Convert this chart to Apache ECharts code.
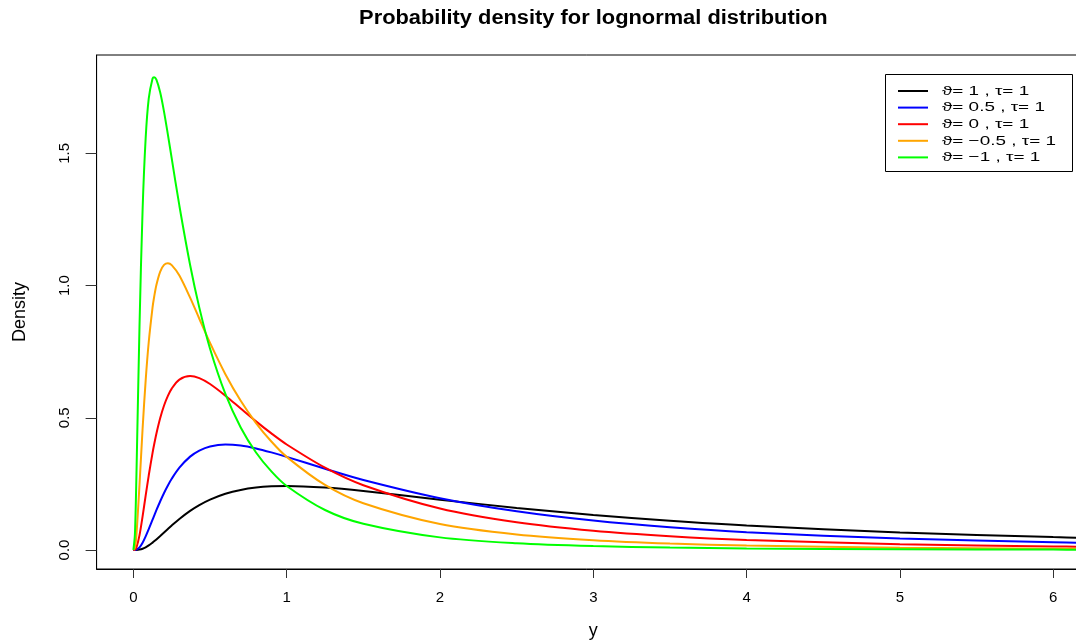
<!DOCTYPE html>
<html>
<head>
<meta charset="utf-8">
<script src="https://cdn.jsdelivr.net/npm/echarts@6/dist/echarts.min.js"></script>
<style>
html,body{margin:0;padding:0;background:#fff;}
#c{width:1076px;height:640px;}
</style>
</head>
<body>
<div id="c"></div>
<script>
// x positions (y variable) at which densities were read
const xs = [0, 0.01, 0.02, 0.04, 0.06, 0.08, 0.1, 0.125, 0.135, 0.15, 0.175, 0.2, 0.225, 0.25, 0.3, 0.37, 0.43, 0.5, 0.6, 0.7, 0.8, 0.9, 1.0, 1.25, 1.5, 2, 2.5, 3, 3.5, 4, 5, 6, 6.2];

const densTheta1 = [0, 0, 0.0001, 0.0014, 0.0046, 0.0100, 0.0171, 0.0279, 0.0326, 0.0400, 0.0530, 0.0663, 0.0795, 0.0926, 0.1172, 0.1476, 0.1695, 0.1904, 0.2124, 0.2271, 0.2361, 0.2406, 0.2420, 0.2360, 0.2229, 0.1903, 0.1590, 0.1323, 0.1104, 0.0926, 0.0663, 0.0486, 0.0458];
const densTheta05 = [0, 0.0001, 0.0012, 0.0099, 0.0275, 0.0513, 0.0786, 0.1146, 0.1290, 0.1504, 0.1843, 0.2156, 0.2440, 0.2694, 0.3114, 0.3530, 0.3760, 0.3916, 0.3989, 0.3949, 0.3840, 0.3690, 0.3521, 0.3072, 0.2648, 0.1958, 0.1463, 0.1112, 0.0859, 0.0673, 0.0431, 0.0289, 0.0268];
const densTheta0 = [0, 0.0010, 0.0095, 0.0562, 0.1271, 0.2054, 0.2815, 0.3674, 0.3981, 0.4399, 0.4990, 0.5464, 0.5828, 0.6104, 0.6441, 0.6577, 0.6497, 0.6276, 0.5836, 0.5348, 0.4864, 0.4408, 0.3989, 0.3113, 0.2450, 0.1569, 0.1049, 0.0727, 0.0520, 0.0381, 0.0219, 0.0134, 0.0122];
const densThetaM05 = [0, 0.0087, 0.0592, 0.2476, 0.4583, 0.6407, 0.7855, 0.9173, 0.9557, 1.0020, 1.0530, 1.0780, 1.0844, 1.0775, 1.0380, 0.9542, 0.8745, 0.7831, 0.6649, 0.5641, 0.4799, 0.4101, 0.3521, 0.2458, 0.1765, 0.0979, 0.0585, 0.0371, 0.0245, 0.0168, 0.0086, 0.0048, 0.0043];
const densThetaM1 = [0, 0.0601, 0.2875, 0.8508, 1.2860, 1.5570, 1.7070, 1.7830, 1.7880, 1.7790, 1.7300, 1.6570, 1.5710, 1.4810, 1.3020, 1.0780, 0.9166, 0.7612, 0.5900, 0.4635, 0.3687, 0.2971, 0.2420, 0.1511, 0.0991, 0.0476, 0.0255, 0.0147, 0.0090, 0.0058, 0.0027, 0.0013, 0.0012];

const seriesNames = ['ϑ= 1 , τ= 1', 'ϑ= 0.5 , τ= 1', 'ϑ= 0 , τ= 1', 'ϑ= −0.5 , τ= 1', 'ϑ= −1 , τ= 1'];
const seriesColors = ['#000000', '#0000ff', '#ff0000', '#ffa500', '#00ff00'];
const seriesValues = [densTheta1, densTheta05, densTheta0, densThetaM05, densThetaM1];

const xTicks = [0, 1, 2, 3, 4, 5, 6];
const yTicks = [0, 0.5, 1, 1.5];
const yTickLabels = ['0.0', '0.5', '1.0', '1.5'];

const titleText = 'Probability density for lognormal distribution';
const xName = 'y';
const yName = 'Density';

const FONT = '"Liberation Sans", Arial, Helvetica, sans-serif';

const chart = echarts.init(document.getElementById('c'), null, {renderer: 'canvas'});

const series = seriesValues.map((vals, k) => ({
  name: seriesNames[k],
  type: 'line',
  data: xs.map((x, i) => [x, vals[i]]),
  showSymbol: false,
  symbol: 'none',
  smooth: 0.3,
  clip: true,
  color: seriesColors[k],
  lineStyle: {color: seriesColors[k], width: 2},
  emphasis: {disabled: true}
}));

// legend drawn as a boxed key (R style)
const legendBox = {x: 885, y: 74, w: 187, h: 97, row0: 91, rowStep: 16.6};
const legendGraphics = [{
  type: 'rect', z: 100,
  shape: {x: legendBox.x + 0.5, y: legendBox.y + 0.5, width: legendBox.w, height: legendBox.h},
  style: {fill: '#fff', stroke: '#000', lineWidth: 1}
}];
seriesNames.forEach((nm, i) => {
  const yy = legendBox.row0 + i * legendBox.rowStep;
  legendGraphics.push({
    type: 'line', z: 101,
    shape: {x1: 898, y1: yy, x2: 928, y2: yy},
    style: {stroke: seriesColors[i], lineWidth: 2}
  });
  legendGraphics.push({
    type: 'text', z: 101, x: 942, y: yy, scaleX: 1.4,
    style: {text: nm, fontFamily: FONT, fontSize: 13.5, fill: '#000', align: 'left', verticalAlign: 'middle'}
  });
});

chart.setOption({
  animation: false,
  backgroundColor: '#ffffff',
  textStyle: {fontFamily: FONT},
  grid: {
    left: 96.6, top: 55, width: 993.4, height: 514,
    outerBoundsMode: 'none',
    show: true, borderColor: '#000', borderWidth: 1, backgroundColor: 'transparent',
    containLabel: false
  },
  graphic: [{
    type: 'text', z: 100,
    x: 593.3, y: 19, scaleX: 1.12,
    style: {
      text: titleText,
      fontFamily: FONT, fontSize: 19.5, fontWeight: 'bold',
      fill: '#000',
      align: 'center', verticalAlign: 'middle'
    }
  }].concat(legendGraphics),
  xAxis: {
    type: 'value',
    min: -0.24, max: 6.24,
    splitLine: {show: false},
    axisLine: {show: true, onZero: false, lineStyle: {color: '#000', width: 1}},
    axisTick: {show: true, customValues: xTicks, length: 9, lineStyle: {color: '#333'}},
    axisLabel: {customValues: xTicks, fontSize: 15, color: '#000', margin: 21, fontFamily: FONT},
    name: xName, nameLocation: 'middle', nameGap: 53,
    nameTextStyle: {fontSize: 18, color: '#000', fontFamily: FONT}
  },
  yAxis: {
    type: 'value',
    min: -0.072, max: 1.872,
    splitLine: {show: false},
    axisLine: {show: true, onZero: false, lineStyle: {color: '#000', width: 1}},
    axisTick: {show: true, customValues: yTicks, length: 11, lineStyle: {color: '#333'}},
    axisLabel: {
      customValues: yTicks, rotate: 90, fontSize: 15, color: '#000', margin: 24, fontFamily: FONT,
      formatter: function (v) { const i = yTicks.indexOf(v); return i >= 0 ? yTickLabels[i] : ''; }
    },
    name: yName, nameLocation: 'middle', nameGap: 68,
    nameTextStyle: {fontSize: 18, color: '#000', fontFamily: FONT}
  },
  series: series
});
</script>
</body>
</html>
